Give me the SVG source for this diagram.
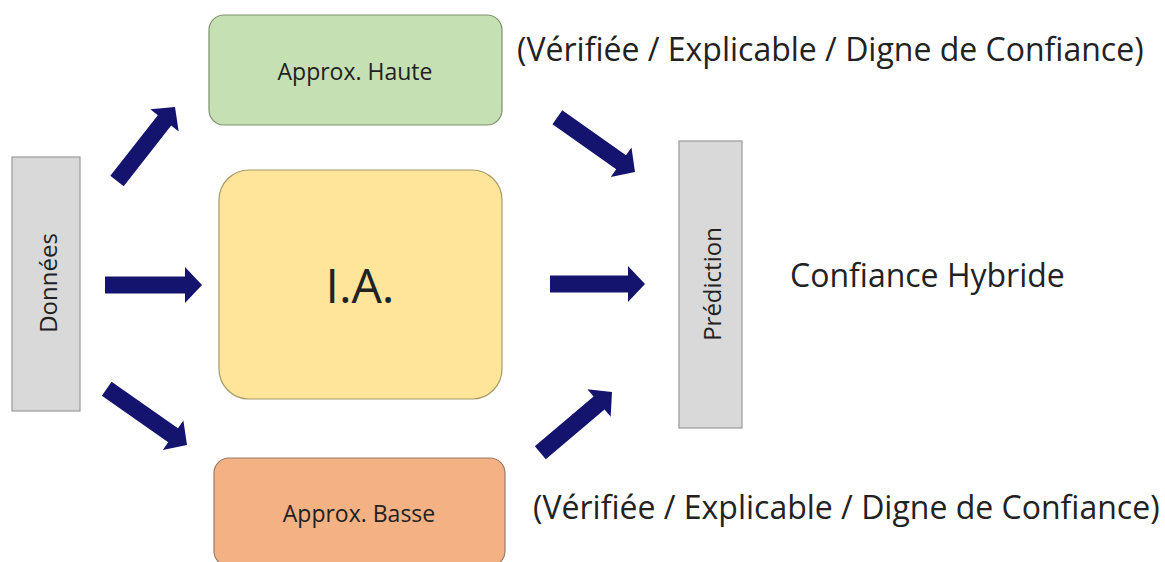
<svg xmlns="http://www.w3.org/2000/svg" width="1165" height="562" viewBox="0 0 1165 562">
<style>
  text { font-family: "Open Sans", "Noto Sans", "Liberation Sans", sans-serif; fill: #222; }
  .box { stroke-width: 1.2; }
  .arrow { fill: #14146e; }
  .lbl { font-size: 23px; text-anchor: middle; }
  .vlbl { font-size: 24px; text-anchor: middle; dominant-baseline: central; }
  .side { font-size: 32px; }
</style>
<rect width="1165" height="562" fill="#ffffff"/>
<g id="donnees">
  <rect class="box" x="12" y="157" width="68" height="254" fill="#d9d9d9" stroke="#9a9a9a"/>
  <text class="vlbl" transform="translate(47,283) rotate(-90)">Données</text>
</g>
<g id="approx-haute">
  <rect class="box" x="209" y="15" width="293" height="110" rx="15" fill="#c5e0b3" stroke="#7f9070"/>
  <text class="lbl" x="355" y="80">Approx. Haute</text>
</g>
<g id="ia">
  <rect class="box" x="219" y="170" width="283" height="229" rx="30" fill="#ffe59a" stroke="#a89a66"/>
  <text x="360" y="303" font-size="48" text-anchor="middle">I.A.</text>
</g>
<g id="approx-basse">
  <rect class="box" x="214" y="458" width="291" height="108" rx="15" fill="#f4b183" stroke="#9a7a6a"/>
  <text class="lbl" x="359" y="522">Approx. Basse</text>
</g>
<g id="prediction">
  <rect class="box" x="679" y="141" width="63" height="287" fill="#d9d9d9" stroke="#9a9a9a"/>
  <text class="vlbl" transform="translate(711,284) rotate(-90)">Prédiction</text>
</g>
<g id="label-top">
  <text class="side" x="517" y="61">(Vérifiée / Explicable / Digne de Confiance)</text>
</g>
<g id="label-hybride">
  <text class="side" x="790" y="287">Confiance Hybride</text>
</g>
<g id="label-bottom">
  <text class="side" x="533" y="519">(Vérifiée / Explicable / Digne de Confiance)</text>
</g>
<g id="connectors">
  <polygon class="arrow" transform="translate(175,107) rotate(-51.9)" points="-94,-8.5 -17,-8.5 -17,-18 0,0 -17,18 -17,8.5 -94,8.5"/>
  <polygon class="arrow" transform="translate(202,285)" points="-97,-8.5 -17,-8.5 -17,-18 0,0 -17,18 -17,8.5 -97,8.5"/>
  <polygon class="arrow" transform="translate(187,445) rotate(35)" points="-98,-8.5 -17,-8.5 -17,-18 0,0 -17,18 -17,8.5 -98,8.5"/>
  <polygon class="arrow" transform="translate(635,172) rotate(35.2)" points="-95,-8.5 -17,-8.5 -17,-18 0,0 -17,18 -17,8.5 -95,8.5"/>
  <polygon class="arrow" transform="translate(645,284)" points="-95,-8.5 -17,-8.5 -17,-18 0,0 -17,18 -17,8.5 -95,8.5"/>
  <polygon class="arrow" transform="translate(612,392) rotate(-40.3)" points="-94,-8.5 -17,-8.5 -17,-18 0,0 -17,18 -17,8.5 -94,8.5"/>
</g>
</svg>
